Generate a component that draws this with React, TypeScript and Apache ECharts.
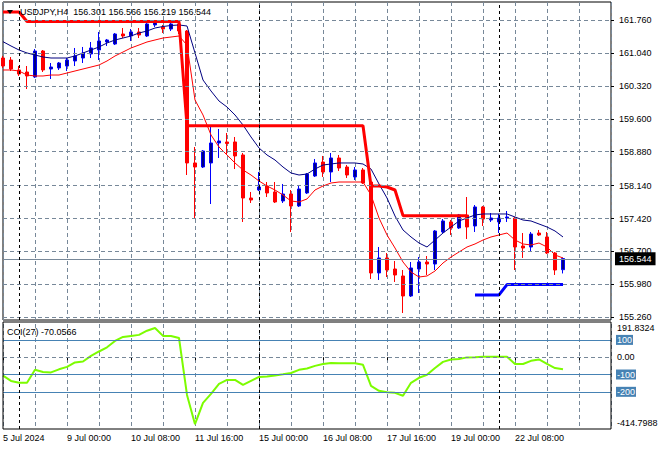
import React, { useEffect, useRef } from 'react';
import * as echarts from 'echarts';

// ---- data (USDJPY H4), bar index 0 = 5 Jul 2024 16:00 ----
const opens = [
  160.929, 160.885, 160.667, 160.623, 160.514, 161.082, 160.689, 160.711, 160.754, 160.864,
  160.929, 161.017, 161.104, 161.279, 161.235, 161.454, 161.410, 161.498, 161.410, 161.651,
  161.607, 161.563, 161.673, 161.519, 158.634, 158.546, 158.634, 159.071, 159.093, 159.093,
  158.809, 157.868, 158.043, 158.131, 158.000, 157.803, 157.956, 157.694, 157.978, 158.349,
  158.655, 158.437, 158.743, 158.546, 158.328, 158.481, 158.218, 156.229, 156.557, 156.316,
  156.163, 155.726, 156.316, 156.469, 156.425, 157.125, 157.344, 157.213, 157.497, 157.256,
  157.672, 157.387, 157.344, 157.431, 157.431, 156.819, 156.797, 157.103, 157.016, 156.666,
  156.301,
];
const closes = [
  160.754, 160.689, 160.579, 160.536, 161.082, 160.667, 160.732, 160.820, 160.885, 160.973,
  161.039, 161.148, 161.301, 161.323, 161.454, 161.410, 161.498, 161.432, 161.673, 161.716,
  161.563, 161.673, 161.519, 158.634, 158.546, 158.896, 159.071, 159.115, 159.060, 158.787,
  157.868, 157.825, 158.109, 157.978, 157.781, 157.956, 157.694, 158.065, 158.393, 158.634,
  158.437, 158.743, 158.524, 158.371, 158.481, 158.196, 156.229, 156.557, 156.294, 156.185,
  155.726, 156.338, 156.469, 156.425, 157.147, 157.366, 157.213, 157.497, 157.234, 157.672,
  157.409, 157.431, 157.431, 157.453, 156.797, 156.775, 157.081, 157.060, 156.666, 156.294,
  156.544,
];
const lows = [
  160.711, 160.645, 160.536, 160.251, 160.492, 160.623, 160.470, 160.667, 160.645, 160.754,
  160.820, 160.929, 160.885, 161.192, 161.213, 161.366, 161.301, 161.366, 161.388, 161.607,
  161.476, 161.519, 161.454, 158.371, 157.431, 158.524, 157.737, 158.743, 158.830, 158.502,
  157.344, 157.759, 158.021, 157.890, 157.759, 157.759, 157.125, 157.672, 157.956, 158.328,
  158.328, 158.218, 158.459, 158.306, 158.262, 158.175, 156.098, 156.076, 156.141, 156.032,
  155.354, 155.704, 155.791, 156.185, 156.294, 157.103, 157.060, 157.191, 156.972, 157.125,
  157.256, 157.344, 157.103, 157.344, 156.294, 156.557, 156.688, 157.038, 156.644, 156.185,
  156.219,
];
const highs = [
  160.973, 160.951, 160.754, 160.754, 161.126, 161.104, 160.820, 160.842, 160.929, 161.148,
  161.170, 161.279, 161.498, 161.345, 161.476, 161.585, 161.563, 161.585, 161.716, 161.760,
  161.651, 161.694, 161.716, 161.541, 158.983, 158.918, 159.443, 159.377, 159.290, 159.202,
  158.852, 158.000, 158.437, 158.218, 158.218, 158.175, 158.043, 158.153, 158.415, 158.721,
  158.787, 158.852, 158.809, 158.590, 158.546, 158.524, 158.240, 156.797, 156.666, 156.491,
  156.294, 156.469, 156.578, 156.600, 157.169, 157.409, 157.387, 157.519, 157.890, 157.715,
  157.694, 157.540, 157.519, 157.584, 157.453, 157.103, 157.125, 157.169, 157.125, 156.688,
  156.566,
];
// slow moving average (navy)
const maSlow = [
  161.286, 161.192, 161.104, 161.039, 160.995, 160.951, 160.929, 160.929, 160.929, 160.973,
  161.039, 161.104, 161.170, 161.257, 161.323, 161.366, 161.410, 161.476, 161.519, 161.585,
  161.618, 161.640, 161.651, 161.629, 161.039, 160.448, 160.208, 159.989, 159.858, 159.683,
  159.464, 159.202, 158.962, 158.809, 158.699, 158.546, 158.415, 158.371, 158.393, 158.502,
  158.590, 158.612, 158.634, 158.634, 158.634, 158.612, 158.502, 158.175, 157.868, 157.475,
  157.169, 157.016, 156.884, 156.797, 156.950, 157.103, 157.234, 157.366, 157.431, 157.497,
  157.519, 157.519, 157.519, 157.519, 157.453, 157.387, 157.366, 157.300, 157.234, 157.147,
  157.016,
];
// fast moving average (red)
const maFast = [
  160.667, 160.667, 160.645, 160.557, 160.536, 160.536, 160.557, 160.557, 160.601, 160.645,
  160.689, 160.732, 160.776, 160.864, 160.973, 161.060, 161.148, 161.213, 161.279, 161.323,
  161.366, 161.388, 161.410, 161.213, 160.011, 159.683, 159.246, 158.983, 158.809, 158.634,
  158.481, 158.371, 158.240, 158.131, 158.043, 157.934, 157.803, 157.781, 157.847, 158.043,
  158.131, 158.196, 158.218, 158.218, 158.218, 158.218, 157.934, 157.431, 157.060, 156.775,
  156.469, 156.251, 156.141, 156.163, 156.272, 156.447, 156.578, 156.688, 156.797, 156.863,
  156.950, 157.016, 157.060, 157.103, 156.950, 156.863, 156.841, 156.884, 156.797, 156.622,
  156.557,
];
// resistance step line (thick red)
const resistance = [
  161.935, 161.935, 161.935, 161.727, 161.727, 161.727, 161.727, 161.727, 161.727, 161.727,
  161.727, 161.727, 161.727, 161.727, 161.727, 161.727, 161.727, 161.727, 161.727, 161.727,
  161.727, 161.727, 161.727, 159.449, 159.449, 159.449, 159.449, 159.449, 159.449, 159.449,
  159.449, 159.449, 159.449, 159.449, 159.449, 159.449, 159.449, 159.449, 159.449, 159.449,
  159.449, 159.449, 159.449, 159.449, 159.449, 159.449, 158.131, 158.131, 158.109, 158.043,
  157.482, 157.482, 157.482, 157.482, 157.482, 157.482, 157.482, 157.482, 157.482, null,
  null, null, null, null, null, null, null, null, null, null,
  null,
];
// support step line (thick blue)
const support = [
  null, null, null, null, null, null, null, null, null, null,
  null, null, null, null, null, null, null, null, null, null,
  null, null, null, null, null, null, null, null, null, null,
  null, null, null, null, null, null, null, null, null, null,
  null, null, null, null, null, null, null, null, null, null,
  null, null, null, null, null, null, null, null, null, 155.750,
  155.750, 155.750, 155.750, 155.975, 155.975, 155.975, 155.975, 155.975, 155.975, 155.975,
  155.975,
];
// CCI(27)
const cci = [
  -106, -137, -148, -148, -73, -85, -88, -70, -56, -30,
  -25, 8, 33, 57, 94, 117, 123, 129, 153, 169,
  123, 123, 111, -218, -387, -264, -212, -154, -131, -131,
  -160, -137, -114, -111, -106, -99, -91, -73, -65, -50,
  -39, -33, -35, -35, -35, -44, -166, -194, -203, -206,
  -223, -148, -119, -102, -62, -27, -13, -10, -1, 0,
  2, 2, 2, 3, -39, -39, -21, -13, -39, -63,
  -70.0566,
];

const priceTicks = [161.76, 161.04, 160.32, 159.6, 158.88, 158.14, 157.42, 156.7, 155.98, 155.26];
const xTickLabels = [
  '5 Jul 2024', '9 Jul 00:00', '10 Jul 08:00', '11 Jul 16:00', '15 Jul 00:00',
  '16 Jul 08:00', '17 Jul 16:00', '19 Jul 00:00', '22 Jul 08:00',
];
const weekStarts = [2, 32, 62];
const cciLevels = [100, -100, -200];
const cciRange = [-414.7988, 191.8324];

const FONT = "'Liberation Sans', Arial, sans-serif";
const GRID_COLOR = '#778899';
const CAT_COUNT = 77;

function buildOption() {
  const categories = Array.from({ length: CAT_COUNT }, (_, i) => String(i));
  const candleData = opens.map((o, i) => [o, closes[i], lows[i], highs[i]]);
  const last = opens.length - 1;
  const dash = [4, 3];
  const header = `USDJPY,H4  ${opens[last].toFixed(3)} ${highs[last].toFixed(3)} ${lows[last].toFixed(3)} ${closes[last].toFixed(3)}`;

  const sepMarkLine = {
    symbol: ['none', 'none'],
    silent: true,
    label: { show: false },
    lineStyle: { color: '#000', type: [3, 3], width: 1 },
    data: weekStarts.map((i) => ({ xAxis: String(i) })),
  };

  return {
    animation: false,
    backgroundColor: '#fff',
    textStyle: { fontFamily: FONT },
    grid: [
      { left: 3, top: 2, width: 608, height: 318, show: true, borderColor: '#000', borderWidth: 1 },
      { left: 3, top: 324, width: 608, height: 105 },
    ],
    xAxis: [
      {
        type: 'category', gridIndex: 0, data: categories, boundaryGap: false,
        axisLine: { show: false }, axisTick: { show: false }, axisLabel: { show: false },
        splitLine: { show: true, interval: 3, lineStyle: { color: GRID_COLOR, type: dash, width: 1 } },
      },
      {
        type: 'category', gridIndex: 1, data: categories, boundaryGap: false,
        axisLine: { show: false },
        axisTick: { show: true, interval: 7, length: 3, lineStyle: { color: '#000' } },
        axisLabel: {
          show: true, interval: 7, align: 'left', margin: 4, color: '#000', fontFamily: FONT, fontSize: 9,
          formatter: (_v: string, idx: number) => (idx % 8 === 0 && xTickLabels[idx / 8]) ? xTickLabels[idx / 8] : '',
        },
        splitLine: { show: true, interval: 3, lineStyle: { color: GRID_COLOR, type: dash, width: 1 } },
      },
    ],
    yAxis: [
      {
        type: 'value', gridIndex: 0, position: 'right', min: 155.201, max: 162.1535,
        axisLine: { show: false }, splitLine: { show: false },
        axisTick: { show: true, customValues: priceTicks, length: 3, lineStyle: { color: '#000' } },
        axisLabel: {
          show: true, customValues: priceTicks, margin: 8, color: '#000', fontFamily: FONT, fontSize: 9,
          formatter: (v: number) => v.toFixed(3),
        },
      },
      {
        type: 'value', gridIndex: 1, position: 'right', min: cciRange[0], max: cciRange[1],
        axisLine: { show: false }, splitLine: { show: false }, axisTick: { show: false }, axisLabel: { show: false },
      },
    ],
    series: [
      {
        name: 'grid', type: 'line', xAxisIndex: 0, yAxisIndex: 0, data: [], z: 1, silent: true,
        markLine: {
          symbol: ['none', 'none'], silent: true, label: { show: false },
          lineStyle: { color: GRID_COLOR, type: dash, width: 1 },
          data: [
            ...priceTicks.map((v) => ({ yAxis: v })),
            {
              yAxis: closes[last],
              lineStyle: { color: GRID_COLOR, type: 'solid', width: 1 },
              label: {
                show: true, position: 'end', distance: 4, formatter: closes[last].toFixed(3),
                backgroundColor: '#000', color: '#fff', padding: [2, 4, 2, 4], fontSize: 9, fontFamily: FONT,
              },
            },
          ],
        },
      },
      { name: 'sep', type: 'line', xAxisIndex: 0, yAxisIndex: 0, data: [], z: 1, silent: true, markLine: sepMarkLine },
      {
        name: 'USDJPY', type: 'candlestick', xAxisIndex: 0, yAxisIndex: 0, data: candleData, barWidth: 4, z: 2,
        itemStyle: { color: '#000080', borderColor: '#0000ff', color0: '#ff0000', borderColor0: '#ff0000', borderWidth: 1 },
      },
      {
        name: 'MA slow', type: 'line', xAxisIndex: 0, yAxisIndex: 0, data: maSlow, symbol: 'none', z: 3,
        lineStyle: { color: '#000080', width: 1 },
      },
      {
        name: 'MA fast', type: 'line', xAxisIndex: 0, yAxisIndex: 0, data: maFast, symbol: 'none', z: 3,
        lineStyle: { color: '#ff0000', width: 1 },
      },
      {
        name: 'Resistance', type: 'line', xAxisIndex: 0, yAxisIndex: 0, data: resistance, symbol: 'none', z: 4,
        connectNulls: false, lineStyle: { color: '#ff0000', width: 3 },
      },
      {
        name: 'Support', type: 'line', xAxisIndex: 0, yAxisIndex: 0, data: support, symbol: 'none', z: 4,
        connectNulls: false, lineStyle: { color: '#0000ff', width: 3 },
      },
      {
        name: 'cciLevels', type: 'line', xAxisIndex: 1, yAxisIndex: 1, data: [], z: 1, silent: true,
        markLine: {
          symbol: ['none', 'none'], silent: true,
          data: [
            ...cciLevels.map((v) => ({
              yAxis: v,
              lineStyle: { color: '#4682B4', type: 'solid', width: 1 },
              label: {
                show: true, position: 'end', distance: 5, formatter: String(v),
                backgroundColor: '#4682B4', color: '#fff', padding: [1, 1, 0, 1], fontSize: 9, fontFamily: FONT,
              },
            })),
            {
              yAxis: 0,
              lineStyle: { color: GRID_COLOR, type: dash, width: 1 },
              label: { show: true, position: 'end', distance: 6, formatter: '0.00', color: '#000', fontSize: 9, fontFamily: FONT },
            },
          ],
        },
      },
      { name: 'sep2', type: 'line', xAxisIndex: 1, yAxisIndex: 1, data: [], z: 1, silent: true, markLine: sepMarkLine },
      {
        name: 'CCI(27)', type: 'line', xAxisIndex: 1, yAxisIndex: 1, data: cci, symbol: 'none', z: 3,
        lineStyle: { color: '#7CFC00', width: 2 },
      },
    ],
    graphic: [
      { type: 'rect', z: 50, silent: true, shape: { x: 3, y: 322, width: 608, height: 107 }, style: { fill: 'none', stroke: '#000', lineWidth: 1 } },
      { type: 'polygon', z: 100, silent: true, shape: { points: [[7, 10], [13, 10], [10, 14]] }, style: { fill: '#000' } },
      { type: 'text', z: 100, silent: true, x: 20, y: 12, style: { text: header, fill: '#000', font: `9px ${FONT}`, verticalAlign: 'middle', align: 'left' } },
      { type: 'text', z: 100, silent: true, x: 7, y: 332, style: { text: `CCI(27) ${cci[last].toFixed(4)}`, fill: '#000', font: `9px ${FONT}`, verticalAlign: 'middle', align: 'left' } },
      { type: 'text', z: 100, silent: true, x: 617, y: 328, style: { text: cciRange[1].toFixed(4), fill: '#000', font: `9px ${FONT}`, verticalAlign: 'middle', align: 'left' } },
      { type: 'text', z: 100, silent: true, x: 617, y: 423, style: { text: cciRange[0].toFixed(4), fill: '#000', font: `9px ${FONT}`, verticalAlign: 'middle', align: 'left' } },
    ],
  };
}

export default function App() {
  const ref = useRef<HTMLDivElement>(null);
  useEffect(() => {
    if (!ref.current) return;
    const chart = echarts.init(ref.current, null, { renderer: 'svg' });
    chart.setOption(buildOption() as any);
    return () => chart.dispose();
  }, []);
  return (
    <div
      ref={ref}
      style={{ position: 'fixed', left: 0, top: 0, width: 660, height: 450, background: '#fff' }}
    />
  );
}
